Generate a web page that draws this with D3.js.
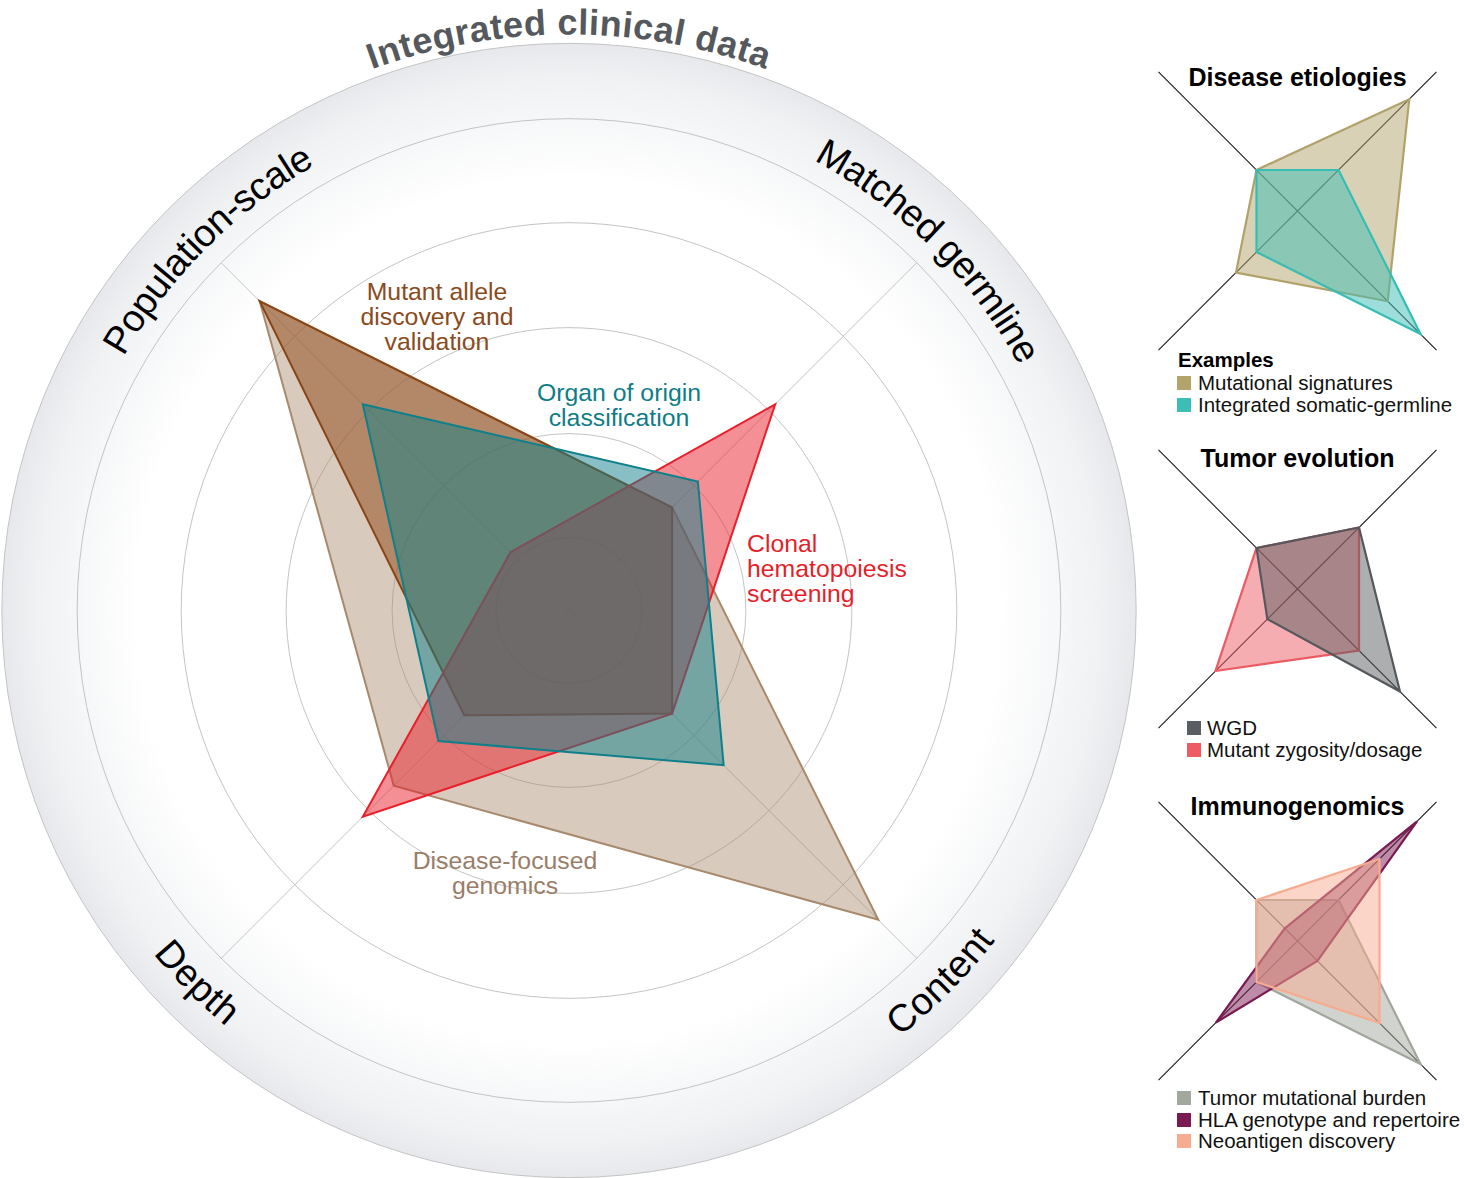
<!DOCTYPE html>
<html><head><meta charset="utf-8">
<script src="https://cdn.jsdelivr.net/npm/d3@7"></script>
<style>
body{margin:0;background:#fff}
svg{display:block}
text{font-family:"Liberation Sans",Arial,Helvetica,sans-serif}
</style>
</head><body>
<svg id="chart" width="1464" height="1178"></svg>
<script>
// ---------- DATA ----------
const axes = ["Population-scale", "Matched germline", "Content", "Depth"];
const chartTitle = "Integrated clinical data";
const gridLevels = [1.5, 3.64, 5.82, 7.98, 10.12];
const outerLevel = 11.67;

const mainSeries = ["Disease-focused genomics", "Mutant allele discovery and validation",
                    "Clonal hematopoiesis screening", "Organ of origin classification"];
const diseaseFocused   = [9.0, 3.0, 9.0, 5.1];
const mutantAllele     = [9.0, 3.0, 3.0, 3.05];
const clonalHemato     = [1.7, 6.0, 3.0, 6.0];
const organOfOrigin    = [6.0, 3.75, 4.5, 3.8];
const mainLabelLines = [["Disease-focused", "genomics"], ["Mutant allele", "discovery and", "validation"],
                        ["Clonal", "hematopoiesis", "screening"], ["Organ of origin", "classification"]];

const panelTitles = ["Disease etiologies", "Tumor evolution", "Immunogenomics"];
const etiologySeries = ["Mutational signatures", "Integrated somatic-germline"];
const mutationalSignatures = [2, 5.45, 4.4, 3];
const integratedSomaticGermline = [2, 2, 6, 2];
const evolutionSeries = ["WGD", "Mutant zygosity/dosage"];
const wgd = [2, 3, 5, 1.47];
const mutantZygosity = [2, 3, 3, 4];
const immunoSeries = ["Tumor mutational burden", "HLA genotype and repertoire", "Neoantigen discovery"];
const tmb = [2, 2, 6, 2];
const hla = [0.62, 5.83, 0.97, 3.98];
const neoantigen = [2, 4, 4, 2];
const miniMax = 6.78;

// ---------- STYLE ----------
const mainColors = ["#a8896c", "#8b4513", "#e8202c", "#0f7f8a"];
const mainFillOpacity = [0.45, 0.5, 0.5, 0.5];
const mainLabelColors = ["#9a7d68", "#8b4a1c", "#e41f2b", "#0f7d87"];

const svg = d3.select("#chart");
const cx = 569, cy = 610.5;
const r = d3.scaleLinear().domain([0, 10]).range([0, 486]);
const ang = d3.scaleLinear().domain([0, 4]).range([-Math.PI / 4, 2 * Math.PI - Math.PI / 4]);

const defs = svg.append("defs");
const grad = defs.append("radialGradient").attr("id", "ringGrad")
  .attr("gradientUnits", "userSpaceOnUse").attr("cx", 0).attr("cy", 0).attr("r", r(outerLevel));
grad.append("stop").attr("offset", 0.76).attr("stop-color", "#ffffff");
grad.append("stop").attr("offset", 0.867).attr("stop-color", "#f6f7f8");
grad.append("stop").attr("offset", 0.94).attr("stop-color", "#f0f1f3");
grad.append("stop").attr("offset", 1).attr("stop-color", "#e7e8eb");

const g = svg.append("g").attr("transform", `translate(${cx},${cy})`);
g.append("circle").attr("r", r(outerLevel)).attr("fill", "url(#ringGrad)")
  .attr("stroke", "#c4c4c4").attr("stroke-width", 1);
g.selectAll("circle.grid").data(gridLevels).join("circle").attr("class", "grid")
  .attr("r", d => r(d)).attr("fill", "none").attr("stroke", "#c4c4c4").attr("stroke-width", 1);
g.selectAll("line.axis").data(axes).join("line").attr("class", "axis")
  .attr("x1", 0).attr("y1", 0)
  .attr("x2", (d, i) => r(gridLevels[gridLevels.length - 1]) * Math.sin(ang(i)))
  .attr("y2", (d, i) => -r(gridLevels[gridLevels.length - 1]) * Math.cos(ang(i)))
  .attr("stroke", "#c4c4c4").attr("stroke-width", 1);

const radial = d3.lineRadial().angle((d, i) => ang(i)).radius(d => r(d)).curve(d3.curveLinearClosed);
const mainData = [diseaseFocused, mutantAllele, clonalHemato, organOfOrigin];
g.selectAll("path.series").data(mainData).join("path").attr("class", "series")
  .attr("d", radial)
  .attr("fill", (d, i) => mainColors[i]).attr("fill-opacity", (d, i) => mainFillOpacity[i])
  .attr("stroke", (d, i) => mainColors[i]).attr("stroke-width", 2).attr("stroke-linejoin", "miter");

// series labels
const labelPos = [[505, 869, "middle"], [437, 300, "middle"], [747, 552, "start"], [619, 401, "middle"]];
mainLabelLines.forEach((lines, i) => {
  const t = svg.append("text").attr("x", labelPos[i][0]).attr("y", labelPos[i][1])
    .attr("text-anchor", labelPos[i][2]).attr("fill", mainLabelColors[i])
    .style("font-size", "24.8px");
  lines.forEach((ln, j) => t.append("tspan").attr("x", labelPos[i][0]).attr("dy", j === 0 ? 0 : 25).text(ln));
});

// arc text
function arcD(R, midDeg, clockwise) {
  const a1 = (midDeg - 90) * Math.PI / 180, a2 = (midDeg + 90) * Math.PI / 180;
  const p = a => [cx + R * Math.cos(a), cy + R * Math.sin(a)];
  if (clockwise) {
    const s = p(a1), e = p(a2);
    return `M${s[0]},${s[1]} A${R},${R} 0 0 1 ${e[0]},${e[1]}`;
  } else {
    const s = p(a2), e = p(a1);
    return `M${s[0]},${s[1]} A${R},${R} 0 0 0 ${e[0]},${e[1]}`;
  }
}
const axisLabelR = 526;
axes.forEach((name, i) => {
  const midDeg = -135 + 90 * i;
  const clockwise = midDeg < 0;
  defs.append("path").attr("id", "axp" + i).attr("d", arcD(axisLabelR, midDeg, clockwise));
  svg.append("text").attr("dy", "0.35em").style("font-size", "38px").attr("fill", "#000")
    .append("textPath").attr("href", "#axp" + i).attr("startOffset", "50%")
    .attr("text-anchor", "middle").text(name);
});
defs.append("path").attr("id", "titlep").attr("d", arcD(576, -90, true));
svg.append("text").style("font-size", "36px").style("font-weight", "bold").attr("fill", "#55585d")
  .style("letter-spacing", "0.5px")
  .append("textPath").attr("href", "#titlep").attr("startOffset", "50%")
  .attr("text-anchor", "middle").text(chartTitle);

// ---------- MINI PANELS ----------
const panelCenters = [[1297.5, 211], [1297.5, 589], [1297.5, 941]];
const mr = d3.scaleLinear().domain([0, miniMax]).range([0, 196.6]);
const miniRadial = d3.lineRadial().angle((d, i) => ang(i)).radius(d => mr(d)).curve(d3.curveLinearClosed);
const panels = [
  {data: [mutationalSignatures, integratedSomaticGermline], names: etiologySeries,
   stroke: ["#b1a26a", "#38bdb5"], fill: ["#b3a46c", "#3cbdb5"], op: [0.5, 0.5],
   titleY: 86, legendHead: "Examples", headY: 367, swX: 1177, txX: 1198, rowY: [390, 412]},
  {data: [mutantZygosity, wgd], names: [evolutionSeries[1], evolutionSeries[0]],
   stroke: ["#ec5a62", "#55585c"], fill: ["#ee5b63", "#5a5d61"], op: [0.5, 0.5],
   titleY: 467, swX: 1187, txX: 1207, rowY: [757, 735]},
  {data: [tmb, hla, neoantigen], names: immunoSeries,
   stroke: ["#a0a69b", "#7b1a52", "#f7ab90"], fill: ["#a3a89e", "#7b1a52", "#f7ab90"], op: [0.5, 0.5, 0.5],
   titleY: 815, swX: 1177, txX: 1198, rowY: [1105, 1127, 1148]}
];
panels.forEach((p, k) => {
  const [pcx, pcy] = panelCenters[k];
  const pg = svg.append("g").attr("transform", `translate(${pcx},${pcy})`);
  pg.selectAll("line").data(axes).join("line")
    .attr("x1", 0).attr("y1", 0)
    .attr("x2", (d, i) => mr(miniMax) * Math.sin(ang(i)))
    .attr("y2", (d, i) => -mr(miniMax) * Math.cos(ang(i)))
    .attr("stroke", "#1a1a1a").attr("stroke-width", 1.1);
  pg.selectAll("path").data(p.data).join("path").attr("d", miniRadial)
    .attr("fill", (d, i) => p.fill[i]).attr("fill-opacity", (d, i) => p.op[i])
    .attr("stroke", (d, i) => p.stroke[i]).attr("stroke-width", 2.2);
  svg.append("text").attr("x", pcx).attr("y", p.titleY).attr("text-anchor", "middle")
    .style("font-size", "25px").style("font-weight", "bold").attr("fill", "#000").text(panelTitles[k]);
  if (p.legendHead) {
    svg.append("text").attr("x", 1178).attr("y", p.headY).style("font-size", "20.5px")
      .style("font-weight", "bold").text(p.legendHead);
  }
  p.names.forEach((nm, i) => {
    svg.append("rect").attr("x", p.swX).attr("y", p.rowY[i] - 14).attr("width", 14).attr("height", 14)
      .attr("fill", p.fill[i]);
    svg.append("text").attr("x", p.txX).attr("y", p.rowY[i]).style("font-size", "20.5px")
      .attr("fill", "#111").text(nm);
  });
});
</script>
</body></html>
